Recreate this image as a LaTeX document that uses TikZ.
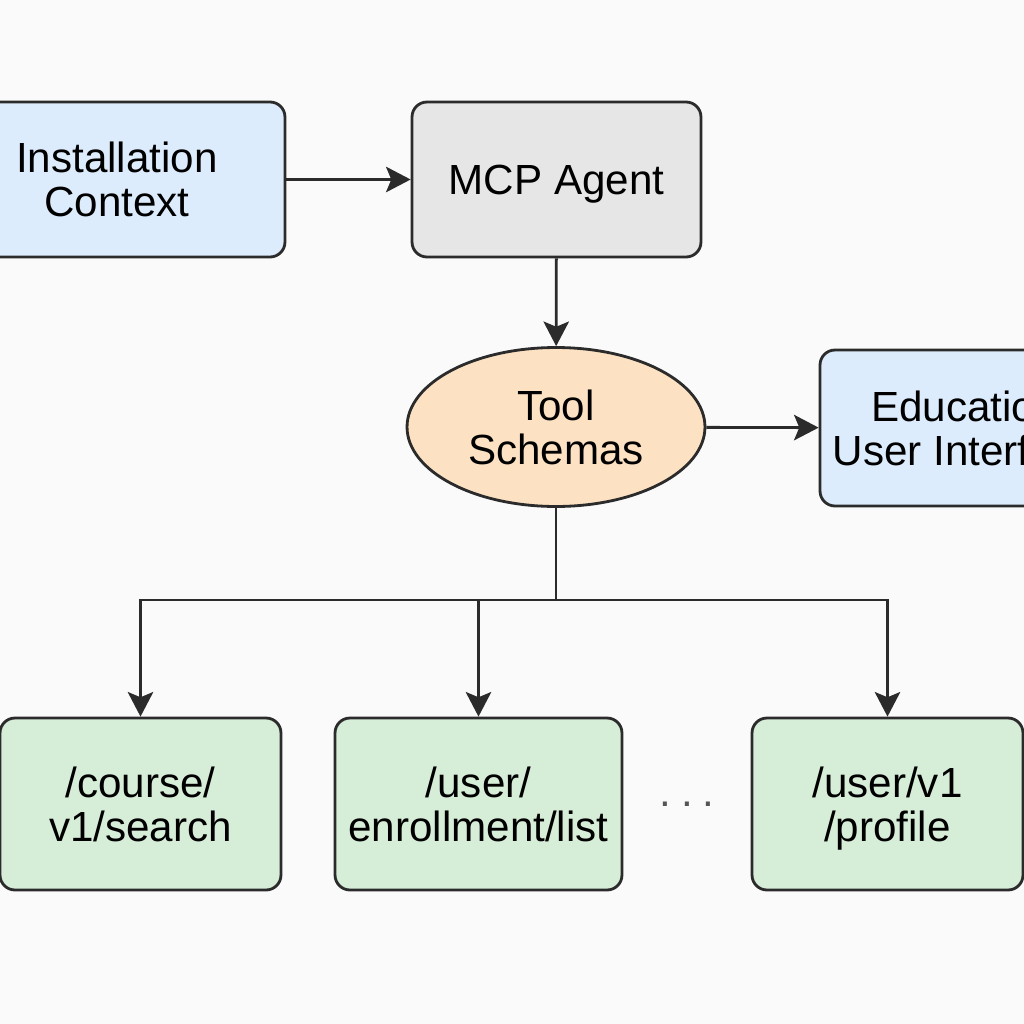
\documentclass[tikz,border=0pt]{standalone}
\usepackage{fontspec}
\setmainfont{Liberation Sans}
\usetikzlibrary{positioning,arrows.meta,shapes.geometric}
\definecolor{ink}{HTML}{2B2B2B}
\definecolor{paper}{HTML}{FAFAFA}
\definecolor{skybg}{HTML}{DDECFC}
\definecolor{greybg}{HTML}{E6E6E6}
\definecolor{peach}{HTML}{FCE2C3}
\definecolor{mint}{HTML}{D6EDD8}
\definecolor{muted}{HTML}{555555}
\tikzset{
  flow/.style={-{Stealth[length=14pt,width=14.5pt,inset=3pt]}, line width=1.6pt, color=ink},
  wire/.style={line width=1.6pt, color=ink},
  blk/.style={rounded corners=8.5pt, draw=ink, fill=#1, line width=1.6pt, text depth=0pt,
    align=center, inner sep=0pt, text=black, font=\fontsize{24}{25}\selectfont},
  blk/.default=skybg,
  oval/.style={ellipse, draw=ink, fill=#1, line width=1.6pt, align=center, text depth=0pt,
    inner sep=0pt, text=black, font=\fontsize{24}{25}\selectfont},
  ep/.style={blk=mint, minimum height=3.44cm},
}
\begin{document}
\begin{tikzpicture}[x=0.02cm,y=-0.02cm]
  \fill[paper] (0,0) rectangle (1024,1024);
  \useasboundingbox (0,0) rectangle (1024,1024);
  % top row
  \node[blk=skybg, minimum width=6.72cm, minimum height=3.1cm] (ctx) at (117,179.5) {Installation\\Context};
  \node[blk=greybg, minimum width=5.78cm, minimum height=3.1cm] (agent) at (556.5,179.5) {MCP Agent};
  % schemas and the interface
  \node[oval=peach, minimum width=5.96cm, minimum height=3.18cm] (schema) at (556,427) {Tool\\Schemas};
  \node[blk=skybg, minimum width=5.8cm, minimum height=3.12cm] (edu) at (965,428) {Education\\User Interface};
  % endpoints
  \node[ep, minimum width=5.62cm] (search) at (140.5,804) {/course/\\v1/search};
  \node[ep, minimum width=5.74cm] (enroll) at (478.5,804) {/user/\\enrollment/list};
  \node[ep, minimum width=5.42cm] (profile) at (887.5,804) {/user/v1\\/profile};
  \node[font=\fontsize{24}{25}\selectfont, text=muted, anchor=base] (more) at (687,806) {.\kern5.5pt.\kern5.5pt.};
  \coordinate (bus) at (556,600);

  \draw[flow] (ctx) -- (agent);
  \draw[flow] (agent) -- (schema);
  \draw[flow] (schema) -- (edu);
  \draw[wire] (schema.south) -- (bus);
  \draw[flow] (bus) -| (search.north);
  \draw[flow] (bus) -| (profile.north);
  \draw[flow] (bus -| enroll.north) -- (enroll.north);
\end{tikzpicture}
\end{document}
